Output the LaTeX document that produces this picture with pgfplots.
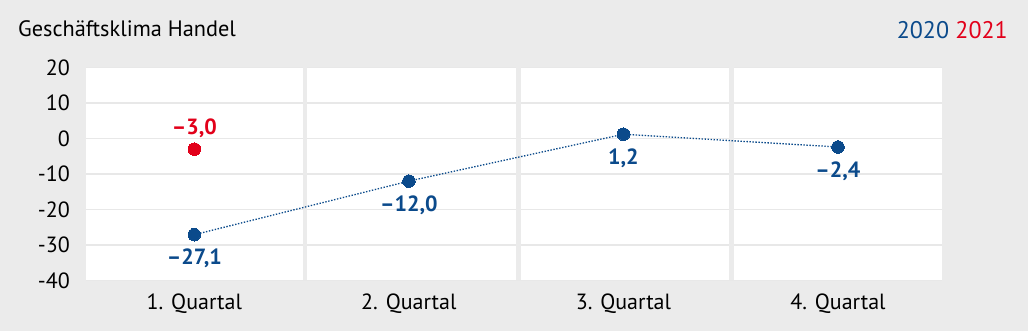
\documentclass[border=0pt]{standalone}
\usepackage{pgfplots}
\pgfplotsset{compat=1.18}
\usepackage{pgfplotstable}
\usepackage{fontspec}
\setmainfont{PT Sans}
\definecolor{bgcol}{HTML}{EBEBEB}
\definecolor{gridcol}{HTML}{E8E8E8}
\definecolor{dblue}{HTML}{0B4A8B}
\definecolor{dred}{HTML}{E2001A}
\pgfplotstableread{
x y label
0 -27.1 {–27,1}
1 -12.0 {–12,0}
2 1.2 {1,2}
3 -2.4 {–2,4}
}\dataA
\pgfplotstableread{
x y label
0 -3.0 {–3,0}
}\dataB
\begin{document}
\fontsize{22}{26}\selectfont
\begin{tikzpicture}[x=1pt,y=1pt]
\fill[bgcol] (0,0) rectangle (1028,331);
\node[anchor=base west,inner sep=0pt] at (18,294) {\fontsize{22.3}{26}\selectfont Geschäftsklima Handel};
\node[anchor=base east,inner sep=0pt] at (1008,292) {\fontsize{24}{28}\selectfont\textcolor{dblue}{2020} \textcolor{dred}{2021}};
\begin{axis}[
  at={(86pt,50.5pt)}, anchor=south west,
  scale only axis, width=856pt, height=213pt,
  xmin=-0.505, xmax=3.485, ymin=-40, ymax=20,
  axis background/.style={fill=white},
  axis line style={draw=none},
  major tick length=0pt,
  xtick={0,1,2,3},
  xticklabels={1. Quartal,2. Quartal,3. Quartal,4. Quartal},
  ytick={-40,-30,-20,-10,0,10,20},
  yticklabels={-40,-30,-20,-10,0,10,20},
  ymajorgrids,
  major grid style={gridcol, line width=1.6pt},
  xticklabel style={anchor=base, inner sep=0pt, yshift=-28.8pt},
  yticklabel style={anchor=east, inner sep=0pt, xshift=-16pt},
  tick label style={font=\fontsize{22}{26}\selectfont},
  clip=false,
]
\draw[bgcol, line width=4.6pt] (axis cs:0.515,-40) -- (axis cs:0.515,20);
\draw[bgcol, line width=4.6pt] (axis cs:1.51,-40) -- (axis cs:1.51,20);
\draw[bgcol, line width=4.6pt] (axis cs:2.505,-40) -- (axis cs:2.505,20);
\addplot[dblue, line width=1.3pt, dash pattern=on 1.4pt off 1.6pt,
  mark=*, mark size=6.3pt, mark options={solid, fill=dblue, draw=dblue, line width=0pt},
  point meta=explicit symbolic, nodes near coords,
  nodes near coords style={anchor=north, inner sep=0pt, yshift=-14.5pt,
    font=\bfseries\fontsize{22}{26}\selectfont, text=dblue}]
  table[x=x, y=y, meta=label] {\dataA};
\addplot[only marks, mark=*, mark size=6.3pt, mark options={fill=dred, draw=dred, line width=0pt},
  point meta=explicit symbolic, nodes near coords,
  nodes near coords style={anchor=base, inner sep=0pt, yshift=15pt,
    font=\bfseries\fontsize{22}{26}\selectfont, text=dred}]
  table[x=x, y=y, meta=label] {\dataB};
\end{axis}
\end{tikzpicture}
\end{document}
